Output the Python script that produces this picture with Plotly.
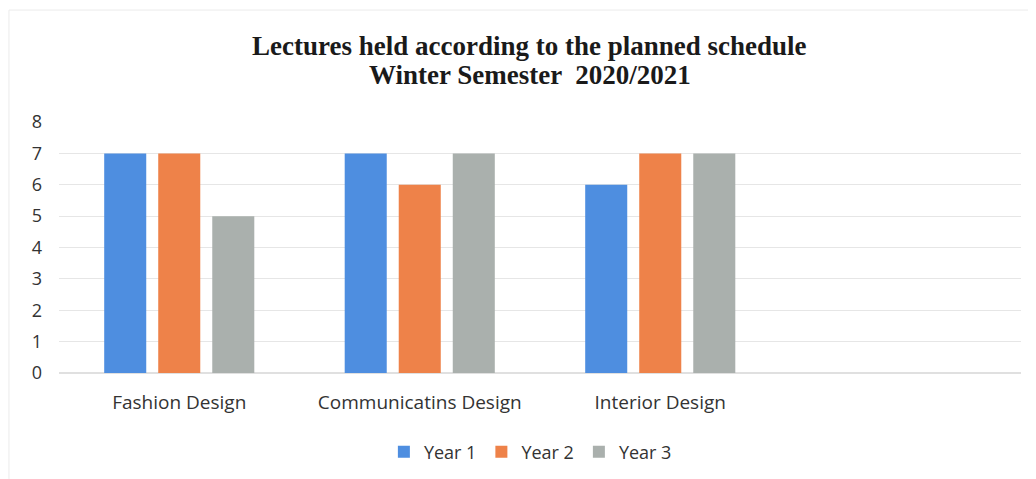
import plotly.graph_objects as go

categories = ["Fashion Design", "Communicatins Design", "Interior Design"]
year1 = [7, 7, 6]
year2 = [7, 6, 7]
year3 = [5, 7, 7]
series_names = ["Year 1", "Year 2", "Year 3"]
colors = ["#4E8EE0", "#EE8249", "#AAB0AD"]
title_lines = ["Lectures held according to the planned schedule", "Winter Semester  2020/2021"]

fig = go.Figure()
for name, vals, col in zip(series_names, [year1, year2, year3], colors):
    fig.add_trace(go.Bar(x=categories, y=vals, name=name, marker_color=col,
                         marker_line_width=0))

fig.update_layout(
    width=1028, height=471,
    margin=dict(l=51, r=15, t=114, b=106, autoexpand=False),
    paper_bgcolor="white", plot_bgcolor="white",
    barmode="group", bargap=0.326, bargroupgap=0.222,
    font=dict(family="Open Sans", color="#333333"),
    legend=dict(orientation="h", x=0.49, xanchor="center", y=-0.315, yanchor="middle",
                font=dict(size=18, color="#333333"), itemwidth=30, traceorder="normal"),
    xaxis=dict(type="category", categoryarray=categories, range=[-0.5, 3.5], automargin=False,
               showgrid=False, showline=False, ticks="", tickfont=dict(size=19, color="#333333"),
               ticklabelstandoff=16),
    yaxis=dict(range=[0, 8], dtick=1, showgrid=True, gridcolor="#E6E6E6", gridwidth=1,
               automargin=False,
               zeroline=True, zerolinecolor="#E0E0E0", showline=False, ticks="",
               tickfont=dict(size=18, color="#333333"), ticklabelstandoff=16),
)
for txt, yy in zip(title_lines, [1.303, 1.187]):
    fig.add_annotation(text="<b>" + txt + "</b>", xref="paper", yref="paper",
                       x=0.4896, y=yy, xanchor="center", yanchor="middle", showarrow=False,
                       font=dict(family="Liberation Serif", size=27, color="#1a1a1a"))
# faint frame (top and left edges, as in the scanned original)
fig.add_shape(type="line", xref="paper", yref="paper", x0=-0.052, x1=1.0156, y0=1.446, y1=1.446,
              line=dict(color="#EBEBEB", width=1))
fig.add_shape(type="line", xref="paper", yref="paper", x0=-0.052, x1=-0.052, y0=-0.422, y1=1.446,
              line=dict(color="#EBEBEB", width=1))
fig.write_html("out.html")
